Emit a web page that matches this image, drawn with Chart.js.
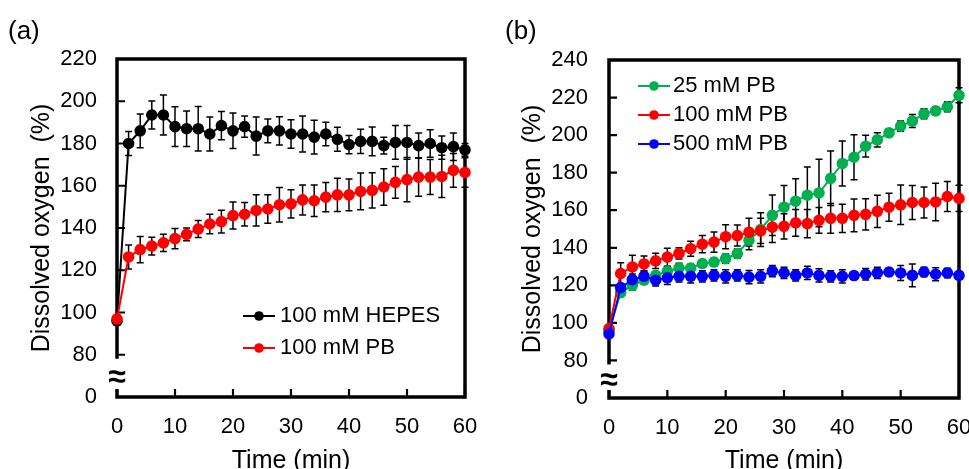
<!DOCTYPE html>
<html>
<head>
<meta charset="utf-8">
<script src="https://cdn.jsdelivr.net/npm/chart.js@4.4.1/dist/chart.umd.min.js"></script>
<style>
  html, body { margin: 0; padding: 0; background: #fff; }
  #wrap { position: relative; width: 969px; height: 469px; overflow: hidden; }
  canvas { position: absolute; top: 0; }
</style>
</head>
<body>
<div id="wrap">
  <canvas id="chartA" width="485" height="469" style="left:0"></canvas>
  <canvas id="chartB" width="484" height="469" style="left:485px"></canvas>
</div>
<script>
const FONT = '"Liberation Sans", Arial, sans-serif';

// time points (min)
const times = [0, 2, 4, 6, 8, 10, 12, 14, 16, 18, 20, 22, 24, 26, 28, 30, 32, 34, 36, 38, 40, 42, 44, 46, 48, 50, 52, 54, 56, 58, 60];

// panel (a)
const hepes100 = [96, 180, 186, 193.5, 193.5, 188, 187, 187, 184.5, 188.5, 186, 188, 183.5, 186, 186, 184.5, 184.5, 183, 184.5, 182, 179.5, 181, 181, 179, 180.5, 180.5, 179, 180, 178, 178.5, 177];
const hepes100Err = [2, 5.7, 8, 6.6, 9.5, 9.4, 8.4, 10.5, 8, 6.7, 8.4, 5, 9, 5.6, 6.7, 6.7, 8.5, 8, 5.6, 5.7, 4.3, 5.7, 6.8, 4, 8, 8, 6, 6.5, 5.5, 6.5, 3];
const pb100 = [97, 126.3, 129.8, 131.4, 133, 135, 137, 139.5, 141.9, 143, 145.9, 146.5, 148.3, 149, 151, 151.4, 153.3, 152.9, 154.6, 155.7, 155.7, 157.3, 157.8, 159.4, 161.6, 162.9, 164.1, 164.1, 164.4, 167.3, 166.3];
const pb100Err = [1, 5.7, 6.2, 4.2, 4.1, 4.8, 3, 4, 4.6, 5.4, 6.4, 5.6, 7.4, 6.7, 8.2, 6.7, 7.1, 7.5, 6.9, 7.9, 7.5, 8.7, 8.3, 8.6, 7.5, 10.5, 9.1, 8.3, 10, 8, 7];

// panel (b)
const pb25 = [96, 116.1, 120, 122.7, 125.3, 127.5, 129.2, 129.2, 131.6, 132.4, 134.2, 136.9, 144, 149.7, 157.3, 161.6, 164.8, 168, 169.2, 177, 184.9, 188.2, 194.1, 197.5, 201.2, 204.8, 207.5, 211.4, 212.9, 215.1, 221.2];
const pb25Err = [1, 2, 2.5, 2, 2, 2.5, 2.5, 2, 2, 2, 2.5, 2.5, 5, 9, 10.8, 11.5, 12, 15, 18, 14.5, 12, 12, 5.8, 3.8, 2, 2.7, 3.5, 2.7, 2, 2.7, 4];
const pb500 = [94.2, 118.8, 123, 124.8, 122.7, 124, 124.8, 124.8, 124.8, 125.3, 124.8, 125.3, 124.4, 124.8, 127.6, 126.6, 125.3, 126.6, 125.3, 124.8, 124.8, 125.2, 125.9, 126.6, 127.1, 126.6, 125.3, 127.1, 125.9, 126.6, 125.3];
const pb500Err = [1, 2, 3, 3, 3, 3.5, 3, 3.5, 3, 3, 3.5, 3, 3.5, 3.5, 3, 3, 3, 3.5, 3.5, 3, 3.5, 2, 3, 3, 2, 4, 6, 2.5, 3.5, 2.5, 2];

const yTickValues = [60, 80, 100, 120, 140, 160, 180, 200, 220, 240];

function series(label, values, errors, color, order) {
    return {
        label: label,
        data: times.map((t, i) => ({ x: t, y: values[i] })),
        errors: errors,
        borderColor: color,
        backgroundColor: color,
        pointBackgroundColor: color,
        pointBorderColor: color,
        borderWidth: 2,
        pointRadius: 4.8,
        pointHoverRadius: 4.8,
        tension: 0,
        clip: false,
        order: order
    };
}

// frame, inward ticks and the axis break
const framePlugin = {
    id: 'frame',
    beforeDatasetsDraw(chart) {
        const { ctx, chartArea: a, scales: { x, y } } = chart;
        ctx.save();
        ctx.strokeStyle = '#000';
        ctx.lineWidth = 3.5;
        ctx.strokeRect(a.left, a.top, a.right - a.left, a.bottom - a.top);
        ctx.lineWidth = 2.2;
        ctx.beginPath();
        x.ticks.forEach(t => {
            const px = x.getPixelForValue(t.value);
            ctx.moveTo(px, a.bottom);
            ctx.lineTo(px, a.bottom - 8);
        });
        y.ticks.forEach(t => {
            const py = y.getPixelForValue(t.value);
            ctx.moveTo(a.left, py);
            ctx.lineTo(a.left + 8, py);
        });
        ctx.stroke();

        const y80 = y.getPixelForValue(80);
        const y0 = y.getPixelForValue(60);
        ctx.fillStyle = '#fff';
        ctx.fillRect(a.left - 3, y80 + 4, 6, y0 - y80 - 12);
        ctx.fillStyle = '#000';
        ctx.font = 'bold 32px ' + FONT;
        ctx.textAlign = 'center';
        ctx.textBaseline = 'middle';
        ctx.fillText('\u2248', a.left, (y80 + y0) / 2 + 2);
        ctx.restore();
    }
};

const errorBarPlugin = {
    id: 'errorBars',
    beforeDatasetsDraw(chart) {
        const { ctx, scales: { x, y } } = chart;
        ctx.save();
        ctx.strokeStyle = '#000';
        ctx.lineWidth = 1.5;
        chart.data.datasets.forEach(ds => {
            ds.errors.forEach((e, i) => {
                if (!e) return;
                const p = ds.data[i];
                const px = x.getPixelForValue(p.x);
                const top = y.getPixelForValue(p.y + e);
                const bot = y.getPixelForValue(p.y - e);
                ctx.beginPath();
                ctx.moveTo(px, top); ctx.lineTo(px, bot);
                ctx.moveTo(px - 3.5, top); ctx.lineTo(px + 3.5, top);
                ctx.moveTo(px - 3.5, bot); ctx.lineTo(px + 3.5, bot);
                ctx.stroke();
            });
        });
        ctx.restore();
    }
};

const insideLegendPlugin = {
    id: 'insideLegend',
    afterDatasetsDraw(chart, args, opts) {
        const { ctx } = chart;
        ctx.save();
        ctx.font = '22px ' + FONT;
        ctx.textBaseline = 'middle';
        ctx.textAlign = 'left';
        chart.data.datasets.forEach((ds, i) => {
            const yy = opts.y + i * opts.gap;
            ctx.strokeStyle = ds.borderColor;
            ctx.lineWidth = 2;
            ctx.beginPath();
            ctx.moveTo(opts.x, yy);
            ctx.lineTo(opts.x + 32, yy);
            ctx.stroke();
            ctx.fillStyle = ds.borderColor;
            ctx.beginPath();
            ctx.arc(opts.x + 16, yy, 4.8, 0, Math.PI * 2);
            ctx.fill();
            ctx.fillStyle = '#000';
            ctx.fillText(ds.label, opts.x + opts.textOffset, yy);
        });
        ctx.restore();
    }
};

const panelLabelPlugin = {
    id: 'panelLabel',
    afterDraw(chart, args, opts) {
        const { ctx } = chart;
        ctx.save();
        ctx.font = '26px ' + FONT;
        ctx.fillStyle = '#000';
        ctx.textAlign = 'left';
        ctx.textBaseline = 'middle';
        ctx.fillText(opts.text, opts.x, opts.y);
        ctx.restore();
    }
};

function makeOptions(cfg) {
    return {
        responsive: false,
        animation: false,
        events: [],
        layout: { padding: { top: cfg.top, right: cfg.right, left: 0, bottom: 0 } },
        plugins: {
            legend: { display: false },
            tooltip: { enabled: false },
            insideLegend: cfg.legend,
            panelLabel: cfg.label
        },
        scales: {
            x: {
                type: 'linear',
                min: 0,
                max: 60,
                grid: { display: false, drawTicks: false },
                border: { display: false },
                ticks: { stepSize: 10, padding: 17, maxRotation: 0, color: '#000', font: { family: FONT, size: 22 } },
                title: {
                    display: true, text: 'Time (min)', color: '#000',
                    font: { family: FONT, size: 25, lineHeight: 1 }, padding: { top: 0, bottom: -5 }
                },
                afterFit: s => { s.height = cfg.xHeight; s.paddingLeft = 0; s.paddingRight = 0; }
            },
            y: {
                type: 'linear',
                min: 60,
                max: cfg.yMax,
                grid: { display: false, drawTicks: false },
                border: { display: false },
                afterBuildTicks: s => { s.ticks = yTickValues.filter(v => v <= cfg.yMax).map(v => ({ value: v })); },
                ticks: {
                    padding: cfg.tickPad, color: '#000', font: { family: FONT, size: 22 },
                    callback: v => (v === 60 ? '0' : String(v))
                },
                title: {
                    display: true, text: 'Dissolved oxygen  (%)', color: '#000',
                    font: { family: FONT, size: 25, lineHeight: 1 }, padding: { top: cfg.titlePad, bottom: 0 }
                },
                afterFit: s => { s.width = cfg.yWidth; s.paddingTop = 0; s.paddingBottom = 0; }
            }
        }
    };
}

const plugins = [framePlugin, errorBarPlugin, insideLegendPlugin, panelLabelPlugin];

new Chart(document.getElementById('chartA'), {
    type: 'line',
    data: {
        datasets: [
            series('100 mM HEPES', hepes100, hepes100Err, '#000000', 1),
            series('100 mM PB', pb100, pb100Err, '#ff0000', 0)
        ]
    },
    options: makeOptions({
        top: 59, right: 20, xHeight: 72, yWidth: 117, yMax: 220, tickPad: 20, titlePad: 30,
        legend: { x: 243, y: 316, gap: 32, textOffset: 37 },
        label: { text: '(a)', x: 8, y: 32 }
    }),
    plugins: plugins
});

new Chart(document.getElementById('chartB'), {
    type: 'line',
    data: {
        datasets: [
            series('25 mM PB', pb25, pb25Err, '#00b050', 2),
            series('100 mM PB', pb100, pb100Err, '#ff0000', 1),
            series('500 mM PB', pb500, pb500Err, '#0000ff', 0)
        ]
    },
    options: makeOptions({
        top: 60, right: 10, xHeight: 71, yWidth: 124, yMax: 240, tickPad: 21, titlePad: 36,
        legend: { x: 153, y: 86, gap: 29, textOffset: 35 },
        label: { text: '(b)', x: 20, y: 32 }
    }),
    plugins: plugins
});
</script>
</body>
</html>
